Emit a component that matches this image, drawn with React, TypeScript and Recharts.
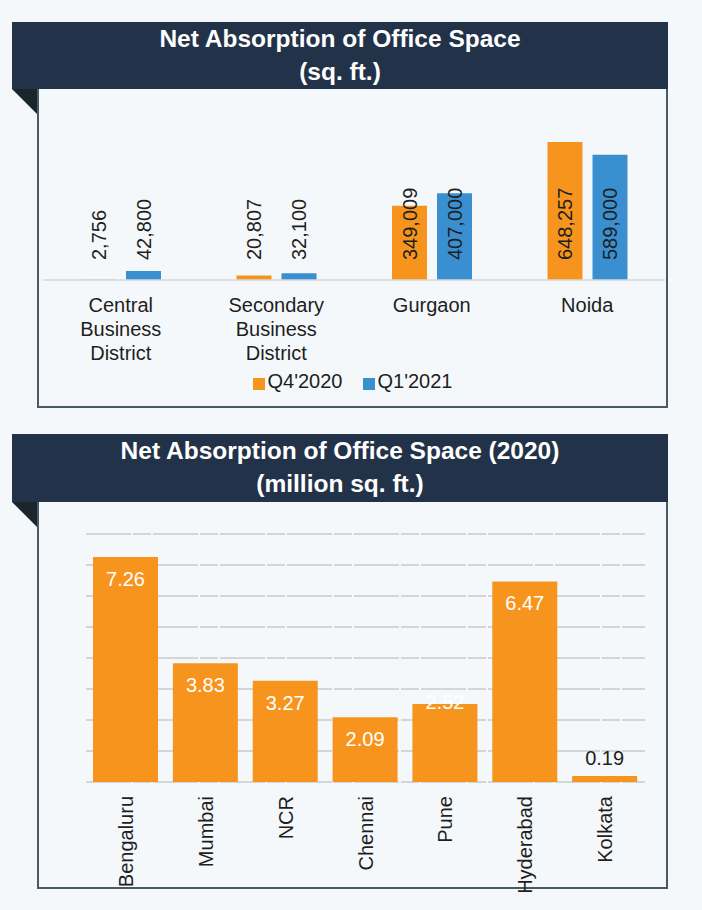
import React from 'react'
import { BarChart, Bar, XAxis, YAxis, CartesianGrid, LabelList, Legend } from 'recharts'

// top chart: quarterly net absorption (sq. ft.)
const ZONES = ['Central Business District', 'Secondary Business District', 'Gurgaon', 'Noida']
const Q4_2020 = [2756, 20807, 349009, 648257]
const Q1_2021 = [42800, 32100, 407000, 589000]
const SERIES_NAMES = ["Q4'2020", "Q1'2021"]

// bottom chart: 2020 net absorption by city (million sq. ft.)
const CITIES = ['Bengaluru', 'Mumbai', 'NCR', 'Chennai', 'Pune', 'Hyderabad', 'Kolkata']
const ABSORPTION_2020 = [7.26, 3.83, 3.27, 2.09, 2.52, 6.47, 0.19]
const CITY_TICKS = [0, 1, 2, 3, 4, 5, 6, 7, 8]

const ORANGE = '#f7941e'
const BLUE = '#3a8fd0'
const NAVY = '#223349'
const BORDER = '#4a5a62'
const BG = '#f5f8fa'
const TEXT = '#1e1e1e'
const FONT = '"Liberation Sans", Arial, sans-serif'

// the Pune label sits higher in the original
const LABEL_SHIFT: Record<string, number> = { Pune: -24 }

const zoneData = ZONES.map((zone, i) => ({ zone, q4: Q4_2020[i], q1: Q1_2021[i] }))
const cityData = CITIES.map((city, i) => ({ city, value: ABSORPTION_2020[i] }))

function Panel({ top, headerHeight, bottom, lines }: { top: number; headerHeight: number; bottom: number; lines: string[] }) {
  const boxTop = top + headerHeight
  return (
    <>
      <div
        style={{
          position: 'absolute', left: 12, top, width: 656, height: headerHeight,
          background: NAVY, color: '#fff', fontFamily: FONT, fontWeight: 700, fontSize: 24.5,
          lineHeight: '33px', textAlign: 'center',
        }}
      >
        {lines.map((l) => <div key={l}>{l}</div>)}
      </div>
      <svg style={{ position: 'absolute', left: 12, top: boxTop }} width={26} height={26}>
        <polygon points="0,0 26,0 26,26" fill="#1b262c" />
      </svg>
      <div
        style={{
          position: 'absolute', left: 37, top: boxTop, width: 627, height: bottom - boxTop - 2,
          borderLeft: `2px solid ${BORDER}`, borderRight: `2px solid ${BORDER}`, borderBottom: `2px solid ${BORDER}`,
        }}
      />
    </>
  )
}

function ZoneTick({ x, y, payload }: any) {
  const words = String(payload.value).split(' ')
  return (
    <text x={x} y={y} textAnchor="middle" fontSize={20} fontFamily={FONT} fill={TEXT}>
      {words.map((w, i) => (
        <tspan key={i} x={x} dy={24}>{w}</tspan>
      ))}
    </text>
  )
}

function ZoneLabel(props: any) {
  const vb = props.viewBox || props
  const cx = vb.x + vb.width / 2
  const by = vb.y + vb.height - 20
  return (
    <text
      x={cx} y={by} transform={`rotate(-90 ${cx} ${by})`}
      textAnchor="start" dominantBaseline="central"
      fontSize={20} fontFamily={FONT} fill={TEXT}
    >
      {Number(props.value).toLocaleString('en-US')}
    </text>
  )
}

function CityTick({ x, y, payload }: any) {
  const ay = y + 6
  return (
    <text
      x={x} y={ay} transform={`rotate(-90 ${x} ${ay})`}
      textAnchor="end" dominantBaseline="central"
      fontSize={20} fontFamily={FONT} fill={TEXT}
    >
      {payload.value}
    </text>
  )
}

function CityLabel(props: any) {
  const vb = props.viewBox || props
  const cx = vb.x + vb.width / 2
  const city = CITIES[props.index]
  const small = Number(props.value) < 1
  const y = small ? vb.y - 11 : vb.y + 29 + (LABEL_SHIFT[city] || 0)
  return (
    <text x={cx} y={y} textAnchor="middle" fontSize={20} fontFamily={FONT} fill={small ? TEXT : '#fff'}>
      {Number(props.value).toFixed(2)}
    </text>
  )
}

function ZoneLegend({ payload }: any) {
  // keep series order, not alphabetical
  const items = [...(payload || [])].sort(
    (a: any, b: any) => SERIES_NAMES.indexOf(a.value) - SERIES_NAMES.indexOf(b.value)
  )
  return (
    <div style={{ display: 'flex', justifyContent: 'center', alignItems: 'center', gap: 20, fontFamily: FONT, fontSize: 20, color: TEXT }}>
      {items.map((p: any) => (
        <span key={p.value} style={{ display: 'flex', alignItems: 'center' }}>
          <span style={{ width: 12, height: 12, background: p.color, display: 'inline-block', marginRight: 3, marginTop: 4 }} />
          {p.value}
        </span>
      ))}
    </div>
  )
}

export default function App() {
  return (
    <div style={{ position: 'absolute', left: 0, top: 0, width: 702, height: 910, background: BG, overflow: 'hidden' }}>
      <Panel top={22} headerHeight={67} bottom={408} lines={['Net Absorption of Office Space', '(sq. ft.)']} />
      <div style={{ position: 'absolute', left: 39, top: 89 }}>
        <BarChart width={627} height={318} data={zoneData} margin={{ top: 42, right: 1, left: 4, bottom: 0 }} barSize={35} barGap={10}>
          <XAxis dataKey="zone" height={127} tick={<ZoneTick />} tickLine={false} axisLine={{ stroke: '#d6d9db', strokeWidth: 1.5 }} interval={0} />
          <YAxis hide domain={[0, 700000]} />
          <Legend
            layout="horizontal" verticalAlign="middle" align="center"
            wrapperStyle={{ top: 281, left: 0, width: 627 }}
            content={<ZoneLegend />}
          />
          <Bar dataKey="q4" name={SERIES_NAMES[0]} fill={ORANGE} isAnimationActive={false}>
            <LabelList dataKey="q4" content={<ZoneLabel />} />
          </Bar>
          <Bar dataKey="q1" name={SERIES_NAMES[1]} fill={BLUE} isAnimationActive={false}>
            <LabelList dataKey="q1" content={<ZoneLabel />} />
          </Bar>
        </BarChart>
      </div>

      <Panel top={434} headerHeight={68} bottom={889} lines={['Net Absorption of Office Space (2020)', '(million sq. ft.)']} />
      <div style={{ position: 'absolute', left: 39, top: 502 }}>
        <BarChart width={627} height={400} data={cityData} margin={{ top: 32, right: 21, left: 47, bottom: 0 }} barSize={65}>
          <CartesianGrid horizontal vertical={false} stroke="#c9c9c9" strokeWidth={1.5} strokeDasharray="45 2 18 2" />
          <XAxis dataKey="city" height={120} tick={<CityTick />} tickLine={false} axisLine={false} interval={0} />
          <YAxis hide domain={[0, 8]} ticks={CITY_TICKS} />
          <Bar dataKey="value" fill={ORANGE} isAnimationActive={false}>
            <LabelList dataKey="value" content={<CityLabel />} />
          </Bar>
        </BarChart>
      </div>
    </div>
  )
}
